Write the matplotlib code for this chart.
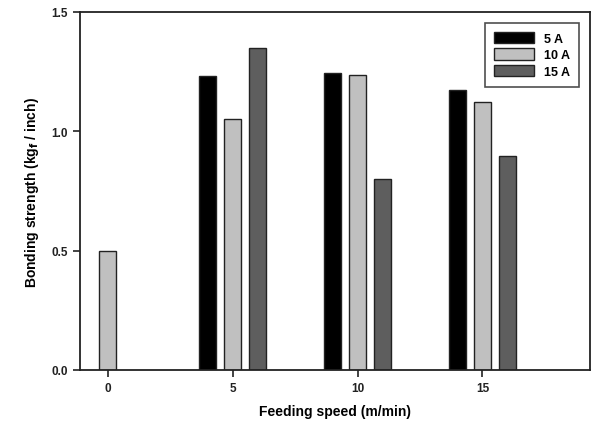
import numpy as np
import matplotlib
matplotlib.use("Agg")
import matplotlib.pyplot as plt

speeds = [0, 5, 10, 15]
tick_labels = ["0", "5", "10", "15"]
series_names = ["5 A", "10 A", "15 A"]
vals_5A = [np.nan, 1.23, 1.245, 1.175]
vals_10A = [0.50, 1.05, 1.235, 1.125]
vals_15A = [np.nan, 1.35, 0.80, 0.895]
colors = ["#000000", "#c0c0c0", "#5e5e5e"]

plt.rcParams['font.family'] = ['Liberation Sans', 'DejaVu Sans']
plt.rcParams['font.weight'] = 'bold'

fig = plt.figure(figsize=(5.93, 4.31), dpi=100)
ax = fig.add_axes([80/593, 60/431, (590-80)/593, (371-13)/431])

x = np.array(speeds, dtype=float)
offsets = [-1, 0, 1]
width = 0.65
for vals, off, c, name in zip([vals_5A, vals_10A, vals_15A], offsets, colors, series_names):
    ax.bar(x + off, vals, width=width, color=c, edgecolor='#222222', linewidth=1.0, label=name)

ax.set_xlim(-1.1, 19.3)
ax.set_ylim(0, 1.5)
ax.set_xticks(speeds)
ax.set_xticklabels(tick_labels)
ax.set_yticks([0.0, 0.5, 1.0, 1.5])
ax.set_yticklabels(["0.0", "0.5", "1.0", "1.5"])
ax.tick_params(direction='out', length=5, width=1.2, labelsize=8.5, colors='#222222')
for s in ax.spines.values():
    s.set_linewidth(1.3)
    s.set_color('#222222')
ax.set_xlabel("Feeding speed (m/min)", fontsize=10, fontweight='bold', labelpad=7)
ax.set_ylabel(r"Bonding strength (kg$_\mathbf{f}$ / inch)", fontsize=10, fontweight='bold', labelpad=8)

leg = ax.legend(loc='upper right', bbox_to_anchor=(0.978, 0.969), borderaxespad=0, fontsize=9, frameon=True,
                fancybox=False, edgecolor='#222222', handlelength=3.2, handleheight=1.0,
                borderpad=0.7, labelspacing=0.3, handletextpad=0.8)
leg.get_frame().set_linewidth(1.2)

fig.savefig("out.png", dpi=100)
